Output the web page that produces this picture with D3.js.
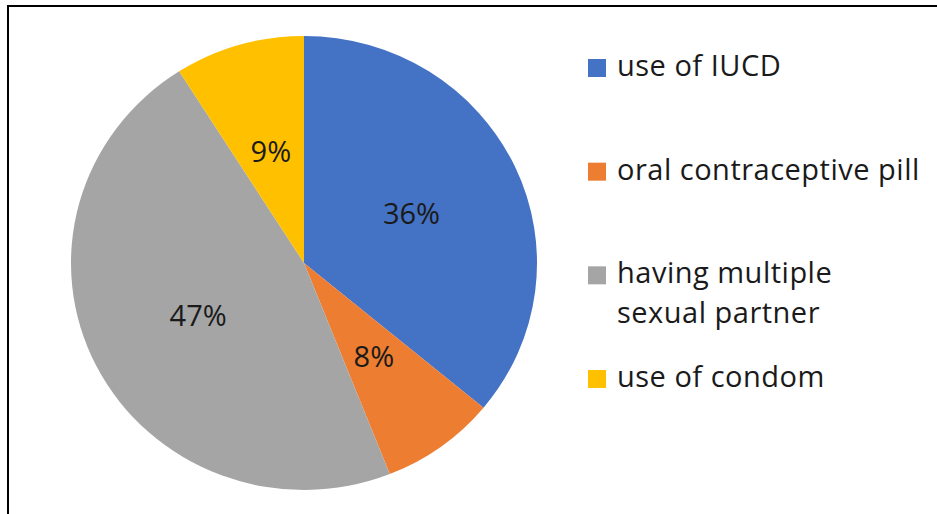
<!DOCTYPE html>
<html>
<head>
<meta charset="utf-8">
<script src="https://cdn.jsdelivr.net/npm/d3@7"></script>
<style>
  html, body { margin: 0; padding: 0; background: #fff; }
  svg { display: block; }
  text { font-family: "Open Sans", "Noto Sans", sans-serif; fill: #1a1a1a; }
</style>
</head>
<body>
<svg id="chart" width="937" height="514"></svg>
<script>
// Reasons / methods and their shares (percent)
const categories = ["use of IUCD", "oral contraceptive pill", "having multiple sexual partner", "use of condom"];
const legendLines = [["use of IUCD"], ["oral contraceptive pill"], ["having multiple", "sexual partner"], ["use of condom"]];
const values = [36, 8, 47, 9];
const colors = ["#4472C4", "#ED7D31", "#A5A5A5", "#FFC000"];

const svg = d3.select("#chart");
const W = 937, H = 514;

// outer frame
svg.append("rect")
  .attr("x", 8).attr("y", 6)
  .attr("width", W + 20).attr("height", H + 20)
  .attr("fill", "none").attr("stroke", "#000").attr("stroke-width", 2);

const cx = 304, cy = 263, ry = 227, rx = 233;
const sx = rx / ry;

const pie = d3.pie().sort(null).value(d => d)(values);
const arc = d3.arc().innerRadius(0).outerRadius(ry);
const labelArc = d3.arc().innerRadius(ry * 0.51).outerRadius(ry * 0.51);

const color = d3.scaleOrdinal().domain(categories).range(colors);

const g = svg.append("g").attr("transform", `translate(${cx},${cy})`);
g.append("g").attr("transform", `scale(${sx},1)`)
  .selectAll("path").data(pie).join("path")
  .attr("d", arc)
  .attr("fill", (d, i) => color(categories[i]));

g.selectAll("text.lbl").data(pie).join("text")
  .attr("class", "lbl")
  .attr("x", d => labelArc.centroid(d)[0] * sx)
  .attr("y", d => labelArc.centroid(d)[1])
  .attr("dy", "0.36em")
  .attr("text-anchor", "middle")
  .attr("font-size", 29)
  .text(d => d.data + "%");

// legend
const legendY = d3.scalePoint().domain(categories).range([76, 387]);
const lg = svg.append("g");
const items = lg.selectAll("g").data(categories).join("g")
  .attr("transform", d => `translate(588,${legendY(d)})`);
items.append("rect")
  .attr("x", 0).attr("y", -17).attr("width", 18).attr("height", 18)
  .attr("fill", d => color(d));
items.append("text")
  .attr("x", 29).attr("y", 0)
  .attr("font-size", 29)
  .attr("letter-spacing", 0.5)
  .selectAll("tspan").data((d, i) => legendLines[i]).join("tspan")
  .attr("x", 29).attr("dy", (d, j) => j === 0 ? 0 : 40)
  .text(d => d);
</script>
</body>
</html>
